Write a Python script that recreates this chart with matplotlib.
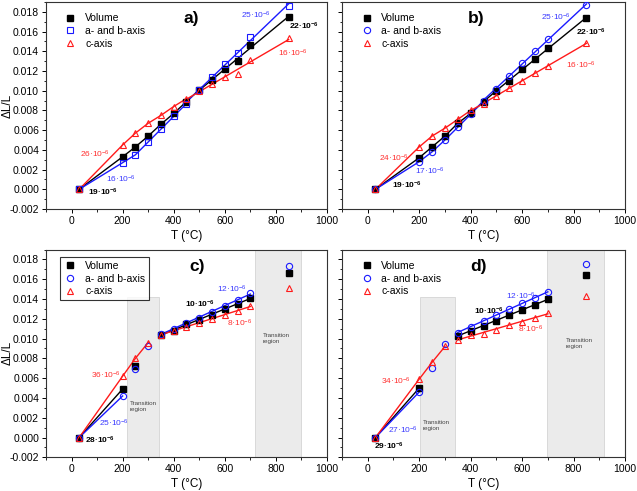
import numpy as np
import matplotlib
matplotlib.use("Agg")
import matplotlib.pyplot as plt
from matplotlib.ticker import MultipleLocator, FormatStrFormatter
from matplotlib.patches import Rectangle

BLUE = "#1a1aff"
RED = "#ff1a1a"
BLUE_TXT = "#3a3aff"
RED_TXT = "#ff3030"
BOX = "#ebebeb"

plt.rcParams.update({
    "font.family": "Liberation Sans",
    "mathtext.fontset": "custom",
    "mathtext.rm": "Liberation Sans",
    "mathtext.it": "Liberation Sans",
    "mathtext.bf": "Liberation Sans:bold",
    "axes.unicode_minus": False,
    "axes.linewidth": 0.8,
})

# temperatures (°C)
T = [30, 200, 250, 300, 350, 400, 450, 500, 550, 600, 650, 700, 850]

# panel a) dL/L
vol_a = [0, 0.0033, 0.0043, 0.0054, 0.0066, 0.0077, 0.0089, 0.0101, 0.0111, 0.0122, 0.0130, 0.0146, 0.0175]
ab_a = [0, 0.0027, 0.0035, 0.0048, 0.0061, 0.0074, 0.0087, 0.0101, 0.0114, 0.0127, 0.0138, 0.0154, 0.0186]
c_a = [0, 0.0045, 0.0057, 0.0067, 0.0075, 0.0084, 0.0092, 0.0100, 0.0107, 0.0114, 0.0117, 0.0131, 0.0153]

# panel b)
vol_b = [0, 0.0032, 0.0043, 0.0054, 0.0067, 0.0077, 0.0089, 0.0100, 0.0110, 0.0122, 0.0132, 0.0143, 0.0174]
ab_b = [0, 0.0028, 0.0038, 0.0050, 0.0063, 0.0076, 0.0090, 0.0102, 0.0115, 0.0128, 0.0140, 0.0152, 0.0187]
c_b = [0, 0.0043, 0.0054, 0.0062, 0.0071, 0.0080, 0.0087, 0.0095, 0.0103, 0.0110, 0.0118, 0.0125, 0.0148]

# panel c)
vol_c = [0, 0.0049, 0.0072, np.nan, 0.0104, 0.0108, 0.0115, 0.0119, 0.0124, 0.0130, 0.0135, 0.0141, 0.0166]
ab_c = [0, 0.0042, 0.0069, 0.0093, 0.0105, 0.0110, 0.0116, 0.0121, 0.0127, 0.0133, 0.0139, 0.0146, 0.0173]
c_c = [0, 0.0062, 0.0080, 0.0096, 0.0104, 0.0108, 0.0112, 0.0116, 0.0120, 0.0124, 0.0128, 0.0133, 0.0151]

# panel d)
vol_d = [0, 0.0050, np.nan, np.nan, 0.0103, 0.0108, 0.0113, 0.0118, 0.0124, 0.0129, 0.0134, 0.0140, 0.0164]
ab_d = [0, 0.0046, 0.0070, 0.0095, 0.0106, 0.0112, 0.0118, 0.0124, 0.0130, 0.0136, 0.0141, 0.0147, 0.0175]
c_d = [0, 0.0059, 0.0076, 0.0092, 0.0099, 0.0104, 0.0105, 0.0109, 0.0114, 0.0117, 0.0121, 0.0126, 0.0143]

LABELS = ["Volume", "a- and b-axis", "c-axis"]


def fit_line(ax, x, y, color):
    x = np.asarray(x, float)
    y = np.asarray(y, float)
    ok = ~np.isnan(y)
    k, b = np.polyfit(x[ok], y[ok], 1)
    xs = np.array([x[ok][0], x[ok][-1]])
    ax.plot(xs, k * xs + b, color=color, lw=1.0, zorder=2)


def style(ax, show_ylab):
    ax.set_xlim(-100, 1000)
    ax.set_ylim(-0.002, 0.019)
    ax.xaxis.set_major_locator(MultipleLocator(200))
    ax.xaxis.set_minor_locator(MultipleLocator(100))
    ax.yaxis.set_minor_locator(MultipleLocator(0.001))
    ax.yaxis.set_major_formatter(FormatStrFormatter("%.3f"))
    ax.set_yticks(np.arange(-0.002, 0.0181, 0.002))
    ax.tick_params(which="major", direction="out", length=3, width=0.7, labelsize=7.5, pad=2)
    ax.tick_params(which="minor", direction="out", length=1.8, width=0.6)
    ax.set_xlabel("T (°C)", fontsize=8.5, labelpad=3)
    if show_ylab:
        ax.set_ylabel("ΔL/L", fontsize=8.5)
        ax.yaxis.set_label_coords(-0.115, 0.5)
    else:
        ax.tick_params(axis="y", labelleft=False)
    for s in ax.spines.values():
        s.set_color("#333333")


def markers(ax, vol, ab, c, ab_marker):
    ax.plot(T, vol, ls="none", marker="s", ms=4, color="black", label=LABELS[0], zorder=4)
    ax.plot(T, ab, ls="none", marker=ab_marker, ms=4.5, mfc="none", mec=BLUE, mew=0.8,
            label=LABELS[1], zorder=4)
    ax.plot(T, c, ls="none", marker="^", ms=4.5, mfc="none", mec=RED, mew=0.8,
            label=LABELS[2], zorder=4)


def legend(ax, frame):
    leg = ax.legend(loc="upper left", bbox_to_anchor=(0.05, 0.965), borderaxespad=0,
                    fontsize=7.5, frameon=frame, fancybox=False, handlelength=1.2,
                    handletextpad=0.8, labelspacing=0.25, borderpad=0.4)
    if frame:
        leg.get_frame().set_edgecolor("black")
        leg.get_frame().set_linewidth(0.8)


def note(ax, x, y, txt, color, bold=False):
    ax.text(x, y, txt, color=color, fontsize=6, fontweight="bold" if bold else "normal",
            va="center", ha="left")


def coef(n, bold=False):
    if bold:
        return n + r"·10$\mathbf{^{-6}}$"
    return n + r"·10$^{-6}$"


def transition(ax, x0, x1, top, tx, ty):
    ax.add_patch(Rectangle((x0, -0.002), x1 - x0, top + 0.002, facecolor=BOX,
                           edgecolor="#d4d4d4", lw=0.6, zorder=0))
    ax.text(tx, ty, "Transition\nregion", fontsize=4.5, color="#444444",
            va="center", ha="left", linespacing=1.3)


fig = plt.figure(figsize=(6.37, 4.91), dpi=100)
ax_a = fig.add_axes([0.0722, 0.5743, 0.4411, 0.4216])
ax_b = fig.add_axes([0.5369, 0.5743, 0.4443, 0.4216])
ax_c = fig.add_axes([0.0722, 0.0686, 0.4411, 0.4232])
ax_d = fig.add_axes([0.5369, 0.0686, 0.4443, 0.4232])

# a) and b): lines through points at low T, linear fit at high T
for ax, vol, ab, c, mk, brk in [(ax_a, vol_a, ab_a, c_a, "s", (7, 6, 6)),
                                (ax_b, vol_b, ab_b, c_b, "o", (7, 6, 6))]:
    for ys, col, k in [(vol, "black", brk[0]), (ab, BLUE, brk[1]), (c, RED, brk[2])]:
        ax.plot(T[:k + 1], ys[:k + 1], color=col, lw=1.0, zorder=2)
        fit_line(ax, T[k:], ys[k:], col)
    markers(ax, vol, ab, c, mk)
    legend(ax, False)

# c) and d): low-T segment + high-T fit
for ax, vol, ab, c in [(ax_c, vol_c, ab_c, c_c), (ax_d, vol_d, ab_d, c_d)]:
    ax.plot(T[:2], vol[:2], color="black", lw=1.0, zorder=2)
    ax.plot(T[:2], ab[:2], color=BLUE, lw=1.0, zorder=2)
    ax.plot(T[:4], c[:4], color=RED, lw=1.0, zorder=2)
    fit_line(ax, T[4:12], vol[4:12], "black")
    fit_line(ax, T[4:12], ab[4:12], BLUE)
    fit_line(ax, T[4:12], c[4:12], RED)
    markers(ax, vol, ab, c, "o")

legend(ax_c, True)
legend(ax_d, False)

transition(ax_c, 218, 344, 0.0142, 228, 0.0031)
transition(ax_c, 718, 899, 0.019, 748, 0.0100)
transition(ax_d, 204, 340, 0.0142, 214, 0.0012)
transition(ax_d, 695, 919, 0.019, 770, 0.0095)

style(ax_a, True)
style(ax_b, False)
style(ax_c, True)
style(ax_d, False)

for ax, lab, x in [(ax_a, "a)", 470), (ax_b, "b)", 420), (ax_c, "c)", 490), (ax_d, "d)", 430)]:
    ax.text(x, 0.0173, lab, fontsize=12.5, fontweight="bold", ha="center", va="center")

note(ax_a, 665, 0.0176, coef("25"), BLUE_TXT)
note(ax_a, 850, 0.0165, coef("22", True), "black", True)
note(ax_a, 808, 0.0138, coef("16"), RED_TXT)
note(ax_a, 32, 0.0035, coef("26"), RED_TXT)
note(ax_a, 136, 0.00105, coef("16"), BLUE_TXT)
note(ax_a, 64, -0.00035, coef("19", True), "black", True)

note(ax_b, 675, 0.0174, coef("25"), BLUE_TXT)
note(ax_b, 810, 0.0159, coef("22", True), "black", True)
note(ax_b, 769, 0.0126, coef("16"), RED_TXT)
note(ax_b, 45, 0.0031, coef("24"), RED_TXT)
note(ax_b, 184, 0.0018, coef("17"), BLUE_TXT)
note(ax_b, 94, 0.0004, coef("19", True), "black", True)

note(ax_c, 570, 0.0150, coef("12"), BLUE_TXT)
note(ax_c, 444, 0.0135, coef("10", True), "black", True)
note(ax_c, 610, 0.0115, coef("8"), RED_TXT)
note(ax_c, 78, 0.0063, coef("36"), RED_TXT)
note(ax_c, 108, 0.00145, coef("25"), BLUE_TXT)
note(ax_c, 52, -0.00025, coef("28", True), "black", True)

note(ax_d, 539, 0.0143, coef("12"), BLUE_TXT)
note(ax_d, 414, 0.0128, coef("10", True), "black", True)
note(ax_d, 584, 0.0109, coef("8"), RED_TXT)
note(ax_d, 52, 0.0057, coef("34"), RED_TXT)
note(ax_d, 80, 0.00077, coef("27"), BLUE_TXT)
note(ax_d, 26, -0.0009, coef("29", True), "black", True)

fig.savefig("out.png", dpi=100, facecolor="white")
